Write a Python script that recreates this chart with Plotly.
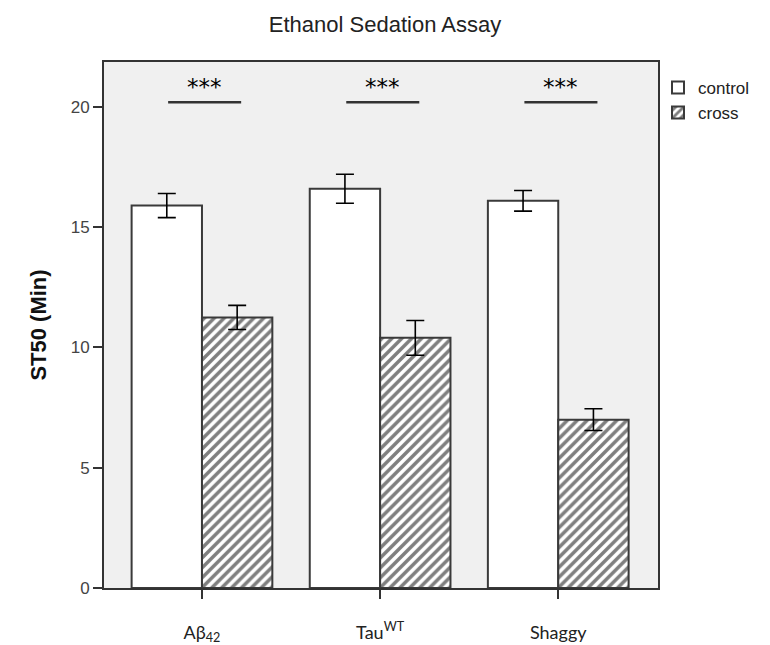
import plotly.graph_objects as go

categories = ["Aβ<sub>42</sub>", "Tau<sup>WT</sup>", "Shaggy"]
control_vals = [15.9, 16.6, 16.1]
control_err = [0.5, 0.6, 0.43]
cross_vals = [11.25, 10.4, 7.0]
cross_err = [0.5, 0.72, 0.45]
sig_labels = ["***", "***", "***"]
sig_level = 20.2

fig = go.Figure()
fig.add_trace(go.Bar(
    x=categories, y=control_vals, name="control",
    marker=dict(color="white", line=dict(color="#3a3a3a", width=2)),
    error_y=dict(type="data", array=control_err, color="black", thickness=1.6, width=9),
))
fig.add_trace(go.Bar(
    x=categories, y=cross_vals, name="cross",
    marker=dict(color="white", line=dict(color="#3a3a3a", width=2),
                pattern=dict(shape="/", fgcolor="black", bgcolor="white", size=7, solidity=0.5)),
    error_y=dict(type="data", array=cross_err, color="black", thickness=1.6, width=9),
))

for i, lab in enumerate(sig_labels):
    fig.add_shape(type="line", xref="x", yref="y", x0=i - 0.19, x1=i + 0.22,
                  y0=sig_level, y1=sig_level, line=dict(color="#333333", width=2.5))
    fig.add_annotation(x=i + 0.015, y=sig_level, xref="x", yref="y", text=lab, showarrow=False,
                       yanchor="bottom", yshift=0, font=dict(size=23, color="black", family="DejaVu Sans"))

fig.update_layout(
    width=770, height=645,
    margin=dict(l=104, r=112, t=62, b=57, autoexpand=False),
    paper_bgcolor="white", plot_bgcolor="#f0f0f0",
    barmode="group", bargap=0.21, bargroupgap=0,
    title=dict(text="Ethanol Sedation Assay", x=0.5, xanchor="center", y=0.962, yanchor="middle",
               font=dict(family="Liberation Sans Narrow, Liberation Sans, Arial", size=22, color="#222")),
    legend=dict(x=1.0, xanchor="left", y=0.985, yanchor="top", bgcolor="rgba(0,0,0,0)",
                font=dict(family="Liberation Sans, Arial", size=17, color="#222"),
                itemwidth=30, tracegroupgap=0),
    font=dict(family="Liberation Sans, Arial", color="#333"),
)
fig.update_xaxes(
    range=[-0.55, 2.56], showline=True, linecolor="#333", linewidth=2, mirror=True,
    ticks="outside", ticklen=9, tickwidth=2, tickcolor="#333", showgrid=False, automargin=False,
    tickfont=dict(family="Lato, Open Sans", size=18, color="#222"), ticklabelstandoff=18,
)
fig.update_yaxes(
    range=[0, 21.87], tickvals=[0, 5, 10, 15, 20], showline=True, linecolor="#333", linewidth=2,
    mirror=True, ticks="outside", ticklen=9, tickwidth=2, tickcolor="#333", showgrid=False,
    zeroline=False, automargin=False, tickfont=dict(family="Liberation Sans, Arial", size=17, color="#444"),
    title=dict(text="<b>ST50 (Min)</b>", font=dict(family="Liberation Sans, Arial", size=22, color="#111"),
               standoff=18),
)
fig.write_html("out.html")
